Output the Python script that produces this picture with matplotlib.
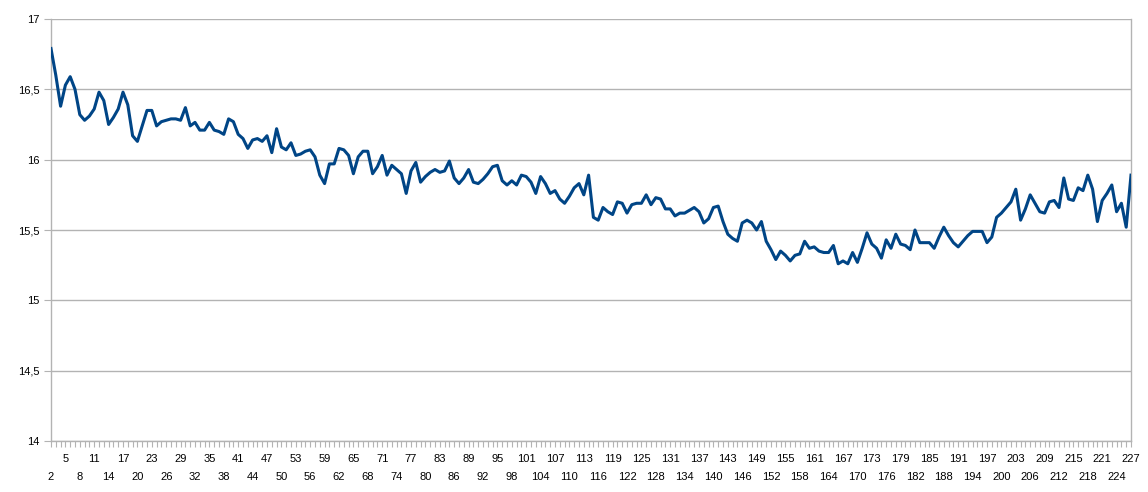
import numpy as np
import matplotlib.pyplot as plt
from matplotlib import rcParams
from matplotlib.ticker import MultipleLocator, FixedLocator, FuncFormatter

rcParams['font.family'] = ['Liberation Sans', 'DejaVu Sans']

LINE = '#004586'
GRID = '#b3b3b3'

# x categories 2..227 and the series values
x_start, x_end = 2, 227
values = [
    16.79, 16.60, 16.38, 16.53, 16.59, 16.50, 16.32, 16.28, 16.31, 16.36,
    16.48, 16.42, 16.25, 16.30, 16.36, 16.48, 16.39, 16.17, 16.13, 16.24,
    16.35, 16.35, 16.24, 16.27, 16.28, 16.29, 16.29, 16.28, 16.37, 16.24,
    16.265, 16.21, 16.21, 16.265, 16.21, 16.20, 16.18, 16.29, 16.27, 16.18,
    16.15, 16.08, 16.14, 16.15, 16.13, 16.17, 16.05, 16.22, 16.09, 16.07,
    16.12, 16.03, 16.04, 16.06, 16.07, 16.02, 15.89, 15.83, 15.97, 15.97,
    16.08, 16.07, 16.03, 15.90, 16.02, 16.06, 16.06, 15.90, 15.95, 16.03,
    15.89, 15.96, 15.93, 15.90, 15.76, 15.92, 15.98, 15.84, 15.88, 15.91,
    15.93, 15.91, 15.92, 15.99, 15.87, 15.83, 15.87, 15.93, 15.84, 15.83,
    15.86, 15.90, 15.95, 15.96, 15.85, 15.82, 15.85, 15.82, 15.89, 15.88,
    15.84, 15.76, 15.88, 15.83, 15.76, 15.78, 15.72, 15.69, 15.74, 15.80,
    15.83, 15.75, 15.89, 15.59, 15.57, 15.66, 15.63, 15.61, 15.70, 15.69,
    15.62, 15.68, 15.69, 15.69, 15.75, 15.68, 15.73, 15.72, 15.65, 15.65,
    15.60, 15.62, 15.62, 15.64, 15.66, 15.63, 15.55, 15.58, 15.66, 15.67,
    15.56, 15.47, 15.44, 15.42, 15.55, 15.57, 15.55, 15.50, 15.56, 15.42,
    15.36, 15.29, 15.35, 15.32, 15.28, 15.32, 15.33, 15.42, 15.37, 15.38,
    15.35, 15.34, 15.34, 15.39, 15.26, 15.28, 15.26, 15.34, 15.27, 15.37,
    15.48, 15.40, 15.37, 15.30, 15.43, 15.37, 15.47, 15.40, 15.39, 15.36,
    15.50, 15.41, 15.41, 15.41, 15.37, 15.45, 15.52, 15.46, 15.41, 15.38,
    15.42, 15.46, 15.49, 15.49, 15.49, 15.41, 15.45, 15.59, 15.62, 15.66,
    15.70, 15.79, 15.57, 15.65, 15.75, 15.69, 15.63, 15.62, 15.70, 15.71,
    15.66, 15.87, 15.72, 15.71, 15.80, 15.78, 15.89, 15.79, 15.56, 15.71,
    15.76, 15.82, 15.63, 15.69, 15.52, 15.89,
]
x = np.arange(x_start, x_start + len(values))

fig = plt.figure(figsize=(11.48, 4.92), dpi=100)
ax = fig.add_axes([51 / 1148, 1 - 441 / 492, (1131 - 51) / 1148, (441 - 19) / 492])

ax.plot(x, values, color=LINE, linewidth=2.2, solid_joinstyle='round', zorder=3)

ax.set_xlim(x_start, x_end)
ax.set_ylim(14, 17)
ax.yaxis.set_major_locator(MultipleLocator(0.5))
ax.yaxis.set_major_formatter(FuncFormatter(lambda v, p: f'{v:g}'.replace('.', ',')))
ax.yaxis.grid(True, color=GRID, linewidth=1.0, zorder=0)
ax.set_axisbelow(True)

# staggered category labels: lower row 2, 8, 14..., upper row 5, 11, 17...
lower = list(range(x_start, x_end + 1, 6))
upper = list(range(x_start + 3, x_end + 1, 6))
ax.xaxis.set_major_locator(FixedLocator(lower))
ax.xaxis.set_minor_locator(FixedLocator(list(x)))
ax.xaxis.set_major_formatter(FuncFormatter(lambda v, p: f'{int(round(v))}'))
ax.xaxis.set_minor_formatter(FuncFormatter(
    lambda v, p: f'{int(round(v))}' if int(round(v)) in upper else ''))

ax.tick_params(axis='x', which='both', length=4, width=0.8, color=GRID,
               labelsize=8, labelcolor='black')
ax.tick_params(axis='x', which='major', pad=18)
ax.tick_params(axis='x', which='minor', pad=5)
ax.tick_params(axis='y', length=5, width=0.8, color=GRID, labelsize=8,
               labelcolor='black', pad=3)

for side in ['left', 'bottom', 'right']:
    ax.spines[side].set_color(GRID)
    ax.spines[side].set_linewidth(1.0)
ax.spines['top'].set_visible(False)

fig.savefig('out.png', dpi=100)
